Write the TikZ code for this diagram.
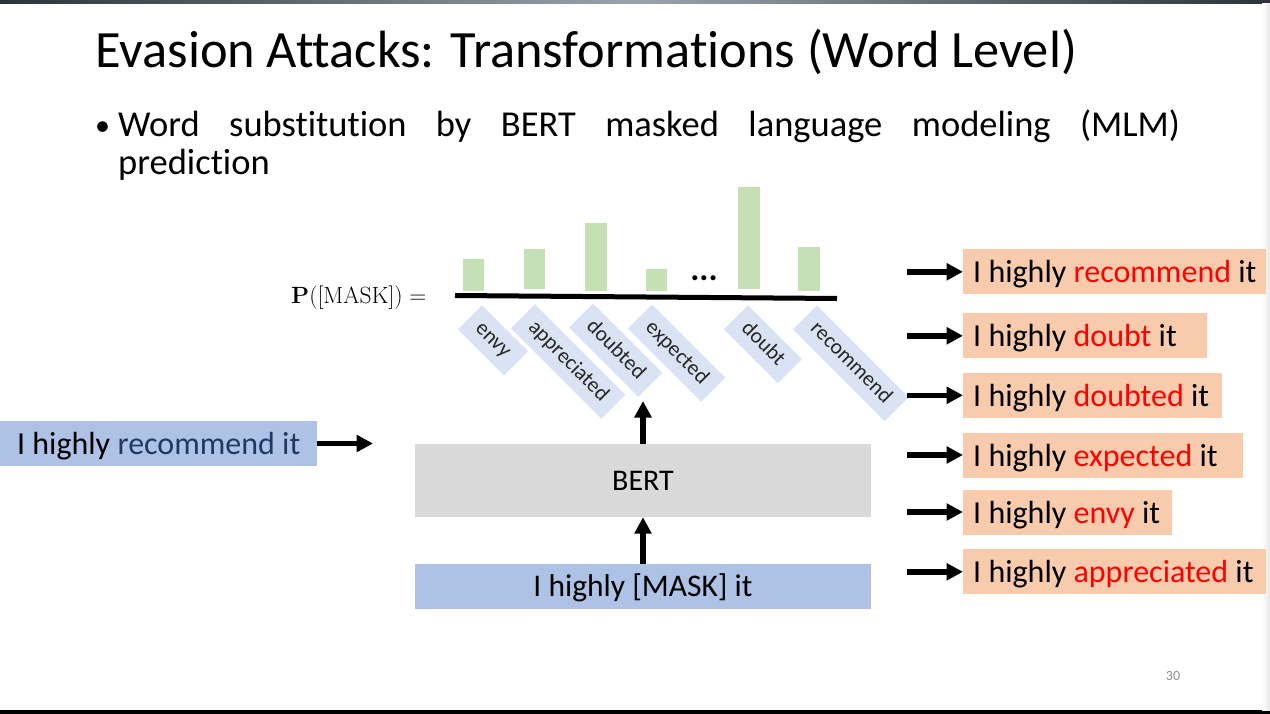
\RequirePackage{fix-cm}
\documentclass[tikz,border=0pt]{standalone}
\usepackage[no-math]{fontspec}
\setmainfont{Carlito}[Ligatures=NoCommon]
\usetikzlibrary{arrows.meta}
\definecolor{barg}{HTML}{C5E0B4}
\definecolor{lblue}{HTML}{DAE3F3}
\definecolor{bertg}{HTML}{D9D9D9}
\definecolor{mblue}{HTML}{ADC2E5}
\definecolor{salmon}{HTML}{F8CBAD}
\definecolor{navy}{HTML}{203864}
\definecolor{redw}{HTML}{FF0000}
\definecolor{pgnum}{HTML}{8C8C8C}
\definecolor{topdark}{HTML}{2E3238}
\definecolor{topmid}{HTML}{9DA3AD}
\newcommand\rsent[2]{\makebox[#1][l]{I highly \textcolor{redw}{#2} it}}
\begin{document}
\begin{tikzpicture}[x=1pt,y=-1pt,
  bar/.style={fill=barg,draw=none},
  lbl/.style={fill=lblue,rotate=-45,anchor=north west,inner xsep=12pt,inner ysep=0pt,
    minimum height=34pt,text height=15pt,text depth=4pt,text=black!85,
    font=\fontsize{21.5}{24}\selectfont},
  sent/.style={inner xsep=0pt,inner ysep=0pt,minimum height=45pt,text height=24pt,
    text depth=2pt,font=\fontsize{32}{36}\selectfont},
  rbox/.style={sent,fill=salmon,anchor=west,inner xsep=10pt},
  arr/.style={line width=5.5pt,-{Triangle[length=16.5pt,width=16.5pt]}},
  plain/.style={inner sep=0pt}]
\useasboundingbox (0,0) rectangle (1270,714);
\fill[white] (0,0) rectangle (1270,714);
\shade[left color=topdark,right color=topdark,middle color=topmid] (0,0) rectangle (1270,3.5);
\fill[black] (0,710) rectangle (1270,714);
\shade[left color=white,right color=black!10] (1262,3.5) rectangle (1270,710);

% title and bullet
\node[plain,anchor=base west,font=\fontsize{52.4}{60}\selectfont] (title) at (95,68)
  {Evasion Attacks: Transformations (Word Level)};
\node[plain,anchor=base west,font=\fontsize{30}{32}\selectfont] (bullet) at (95,136) {•};
\node[plain,anchor=base west,font=\fontsize{36.5}{38}\selectfont] (btext) at (118,137)
  {\parbox[t]{1062pt}{Word substitution by BERT masked language modeling (MLM)\linebreak prediction}};

% P([MASK]) label
\node[plain,anchor=base west,font=\fontsize{23.5}{27}\selectfont] (plabel) at (291,303.5)
  {$\mathbf{P}([\mathrm{MASK}]) =$};

% bars
\fill[bar] (463,259) rectangle (484,291);
\fill[bar] (524,249) rectangle (545,289);
\fill[bar] (585,223) rectangle (607,291);
\fill[bar] (646,269) rectangle (667,291);
\fill[bar] (738,187) rectangle (760,289);
\fill[bar] (798,247) rectangle (820,291);
\node[plain,anchor=base,font=\fontsize{34}{36}\selectfont\bfseries] (dots) at (704,281) {...};
\draw[line width=5pt] (455,295.5) -- (837,298.5);

% rotated labels
\node[lbl] (lenvy) at (482,305) {envy};
\node[lbl] (lappr) at (535,304) {appreciated};
\node[lbl] (ldoubted) at (593,303) {doubted};
\node[lbl] (lexp) at (652,304) {expected};
\node[lbl] (ldoubt) at (748,305) {doubt};
\node[lbl] (lrec) at (817,305) {recommend};

% BERT and input
\node[fill=bertg,minimum width=456pt,minimum height=73pt,inner sep=0pt,
  font=\fontsize{30}{34}\selectfont] (bert) at (643,480.5) {BERT};
\node[sent,fill=mblue,minimum width=456pt,font=\fontsize{31.5}{36}\selectfont,
  text height=22pt] (mask) at (643,586.5) {I highly [MASK] it};
\node[sent,fill=mblue,minimum width=317pt,anchor=west] (orig) at (0,443.5)
  {I highly \textcolor{navy}{recommend it}};

\coordinate (up) at (643,401);
\coordinate (lefttip) at (373,443.5);
\draw[arr] (bert.north) -- (up);
\draw[arr] (mask.north) -- (bert.south);
\draw[arr] (orig.east) -- (lefttip);

% outputs
\node[rbox] (r1) at (963,271.8) {\rsent{283pt}{recommend}};
\node[rbox] (r2) at (963,335.8) {\rsent{224pt}{doubt}};
\node[rbox] (r3) at (963,395.3) {\rsent{239pt}{doubted}};
\node[rbox] (r4) at (963,455) {\rsent{260pt}{expected}};
\node[rbox] (r5) at (963,512) {\rsent{189pt}{envy}};
\node[rbox] (r6) at (963,571.8) {\rsent{283pt}{appreciated}};
\foreach \i in {1,...,6}{
  \coordinate (s\i) at ([xshift=-56pt]r\i.west);
  \draw[arr] (s\i) -- (r\i.west);
}

\node[plain,text=pgnum,font=\fontsize{14}{16}\selectfont] (page) at (1173,676) {30};
\end{tikzpicture}
\end{document}
